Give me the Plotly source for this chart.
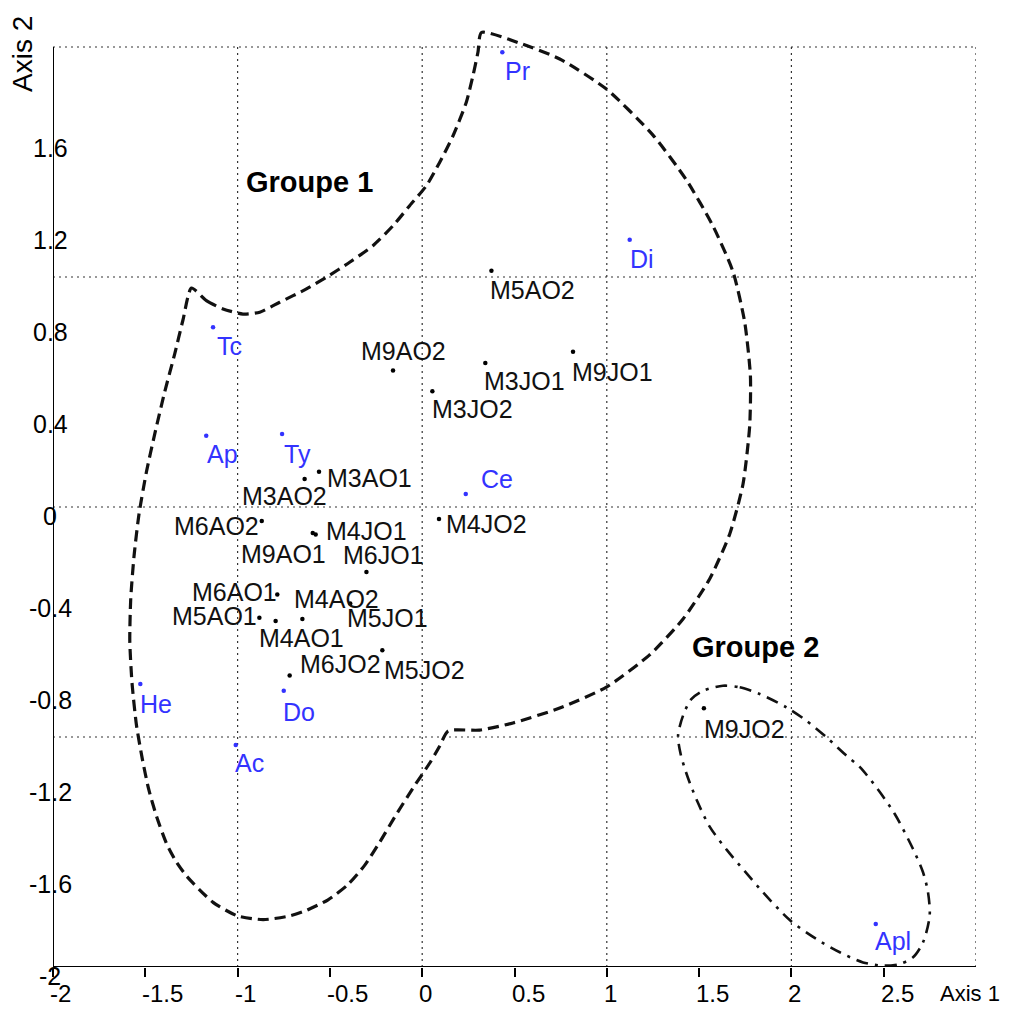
import plotly.graph_objects as go

# ---------------- data ----------------
site_names = ["M3AO1", "M3AO2", "M6AO2", "M4JO1", "M9AO1", "M6JO1", "M6AO1", "M4AO2",
              "M5AO1", "M5JO1", "M4AO1", "M6JO2", "M5JO2", "M4JO2", "M9AO2", "M3JO2",
              "M3JO1", "M9JO1", "M5AO2", "M9JO2"]
site_x = [-0.559, -0.637, -0.869, -0.577, -0.593, -0.302, -0.785, -0.649,
          -0.882, -0.390, -0.794, -0.718, -0.216, 0.091, -0.158, 0.055,
          0.342, 0.817, 0.375, 1.526]
site_y = [0.153, 0.122, -0.061, -0.120, -0.113, -0.283, -0.380, -0.487,
          -0.482, -0.420, -0.496, -0.733, -0.623, -0.052, 0.593, 0.503,
          0.626, 0.675, 1.027, -0.875]

species_names = ["Pr", "Di", "Tc", "Ap", "Ty", "Ce", "He", "Do", "Ac", "Apl"]
species_x = [0.434, 1.124, -1.133, -1.170, -0.759, 0.236, -1.527, -0.750, -1.010, 2.457]
species_y = [1.977, 1.162, 0.781, 0.310, 0.317, 0.057, -0.770, -0.799, -1.035, -1.813]

# Groupe 1 envelope (dashed)
g1_x = [-1.250, -1.169, -1.079, -0.971, -0.880, -0.772, -0.627, -0.519, -0.393, -0.267,
        -0.158, -0.068, 0.023, 0.095, 0.167, 0.239, 0.275, 0.302, 0.321, 0.528,
        0.745, 0.998, 1.250, 1.431, 1.575, 1.684, 1.747, 1.778, 1.774, 1.738,
        1.666, 1.557, 1.413, 1.232, 0.998, 0.745, 0.492, 0.311, 0.140, 0.095,
        0.041, -0.050, -0.149, -0.230, -0.311, -0.404, -0.512, -0.637, -0.718, -0.862,
        -1.003, -1.133, -1.277, -1.335, -1.384, -1.438, -1.482, -1.516, -1.548, -1.572,
        -1.584, -1.579, -1.561, -1.534, -1.494, -1.449, -1.395, -1.341, -1.296, -1.250]
g1_y = [0.952, 0.897, 0.861, 0.839, 0.847, 0.890, 0.948, 0.999, 1.064, 1.136,
        1.223, 1.310, 1.397, 1.499, 1.614, 1.760, 1.875, 1.977, 2.063, 2.017,
        1.948, 1.817, 1.617, 1.422, 1.222, 1.022, 0.804, 0.570, 0.352, 0.100,
        -0.117, -0.313, -0.487, -0.643, -0.783, -0.874, -0.939, -0.970, -0.974, -1.039,
        -1.113, -1.222, -1.348, -1.457, -1.557, -1.643, -1.709, -1.757, -1.778, -1.794,
        -1.777, -1.719, -1.604, -1.539, -1.465, -1.348, -1.226, -1.096, -0.948, -0.765,
        -0.583, -0.400, -0.213, -0.030, 0.152, 0.317, 0.500, 0.665, 0.813, 0.952]

# Groupe 2 envelope (dash-dot)
g2_x = [1.629, 1.720, 1.828, 1.973, 2.081, 2.190, 2.298, 2.370, 2.467, 2.560,
        2.659, 2.713, 2.740, 2.749, 2.713, 2.659, 2.587, 2.496, 2.388, 2.262,
        2.135, 1.991, 1.845, 1.747, 1.650, 1.558, 1.492, 1.438, 1.400, 1.386,
        1.413, 1.458, 1.521, 1.629]
g2_y = [-0.777, -0.784, -0.813, -0.871, -0.929, -1.001, -1.081, -1.130, -1.226, -1.335,
        -1.487, -1.588, -1.675, -1.777, -1.893, -1.958, -1.987, -1.994, -1.980, -1.936,
        -1.878, -1.796, -1.674, -1.583, -1.491, -1.391, -1.283, -1.174, -1.074, -0.994,
        -0.907, -0.835, -0.799, -0.777]

x_tick_vals = [-2, -1.5, -1, -0.5, 0, 0.5, 1, 1.5, 2, 2.5]
x_tick_text = ["-2", "-1.5", "-1", "-0.5", "0", "0.5", "1", "1.5", "2", "2.5"]
y_tick_vals = [1.6, 1.2, 0.8, 0.4, 0, -0.4, -0.8, -1.2, -1.6, -2]
y_tick_text = ["1.6", "1.2", "0.8", "0.4", "0", "-0.4", "-0.8", "-1.2", "-1.6", "-2"]
grid_x = [-1, 0, 1, 2, 3]
grid_y = [-1, 0, 1, 2]

group_labels = ["Groupe 1", "Groupe 2"]
group_label_x = [-0.608, 1.807]
group_label_y = [1.413, -0.609]

# ---------------- styles ----------------
FONT = "Liberation Sans, Arial, sans-serif"
FS = 25
BLUE = "#3333ff"
XMIN, XMAX, YMIN, YMAX = -2, 3, -2, 2

# label offsets in pixels (dx right, dy down) of label centre from its point
site_off = {
    "M3AO1": (50, 6), "M3AO2": (-20, 17), "M6AO2": (-45, 5), "M4JO1": (51, -4),
    "M9AO1": (-29, 21), "M6JO1": (17, -17), "M6AO1": (-43, -2), "M4AO2": (34, -20),
    "M5AO1": (-45, -2), "M5JO1": (37, 14), "M4AO1": (26, 17), "M6JO2": (51, -12),
    "M5JO2": (42, 20), "M4JO2": (47, 5), "M9AO2": (10, -20), "M3JO2": (40, 18),
    "M3JO1": (39, 18), "M9JO1": (39, 20), "M5AO2": (41, 19), "M9JO2": (41, 21),
}
species_off = {
    "Pr": (15, 19), "Di": (12, 19), "Tc": (16, 19), "Ap": (16, 18), "Ty": (15, 20),
    "Ce": (31, -15), "He": (16, 20), "Do": (15, 21), "Ac": (14, 18), "Apl": (17, 17),
}

fig = go.Figure()

# grid
shapes = []
GRID = dict(color="#333333", width=1.2, dash="2px,4px")
for gx in grid_x:
    shapes.append(dict(type="line", xref="x", yref="y", x0=gx, x1=gx, y0=YMIN, y1=YMAX,
                       line=GRID, layer="below"))
for gy in grid_y:
    shapes.append(dict(type="line", xref="x", yref="y", x0=XMIN, x1=XMAX, y0=gy, y1=gy,
                       line=GRID, layer="below"))
# axes lines
shapes.append(dict(type="line", xref="x", yref="y", x0=XMIN, x1=XMIN, y0=YMIN, y1=YMAX,
                   line=dict(color="black", width=2)))
shapes.append(dict(type="line", xref="x", yref="y", x0=XMIN, x1=XMAX, y0=YMIN, y1=YMIN,
                   line=dict(color="black", width=2)))

# envelopes
fig.add_trace(go.Scatter(x=g1_x, y=g1_y, mode="lines",
                         line=dict(color="#111111", width=3.2, dash="11px,6px",
                                   shape="spline", smoothing=0.6),
                         hoverinfo="skip", showlegend=False))
fig.add_trace(go.Scatter(x=g2_x, y=g2_y, mode="lines",
                         line=dict(color="#111111", width=2.6, dash="12px,7px,3px,7px",
                                   shape="spline", smoothing=0.8),
                         hoverinfo="skip", showlegend=False))

# points
fig.add_trace(go.Scatter(x=site_x, y=site_y, mode="markers", text=site_names,
                         marker=dict(color="black", size=4.5), showlegend=False,
                         hovertemplate="%{text}<extra></extra>"))
fig.add_trace(go.Scatter(x=species_x, y=species_y, mode="markers", text=species_names,
                         marker=dict(color=BLUE, size=4.5), showlegend=False,
                         hovertemplate="%{text}<extra></extra>"))

annotations = []
for n, x, y in zip(site_names, site_x, site_y):
    dx, dy = site_off[n]
    annotations.append(dict(x=x, y=y, xref="x", yref="y", text=n, showarrow=False,
                            xanchor="center", yanchor="middle", xshift=dx, yshift=-dy,
                            font=dict(family=FONT, size=FS, color="#111111")))
for n, x, y in zip(species_names, species_x, species_y):
    dx, dy = species_off[n]
    annotations.append(dict(x=x, y=y, xref="x", yref="y", text=n, showarrow=False,
                            xanchor="center", yanchor="middle", xshift=dx, yshift=-dy,
                            font=dict(family=FONT, size=FS, color=BLUE)))
for t, x, y in zip(group_labels, group_label_x, group_label_y):
    annotations.append(dict(x=x, y=y, xref="x", yref="y", text="<b>%s</b>" % t,
                            showarrow=False, xanchor="center", yanchor="middle",
                            font=dict(family=FONT, size=29, color="black")))
# tick labels
for v, t in zip(x_tick_vals, x_tick_text):
    annotations.append(dict(x=v, y=YMIN, xref="x", yref="y", text=t, showarrow=False,
                            xanchor="left", yanchor="middle", xshift=-5, yshift=-26,
                            font=dict(family=FONT, size=24, color="black")))
for v, t in zip(y_tick_vals, y_tick_text):
    annotations.append(dict(x=XMIN, y=v, xref="x", yref="y", text=t, showarrow=False,
                            xanchor="center", yanchor="middle", xshift=-3, yshift=-9,
                            font=dict(family=FONT, size=FS, color="black")))
# axis titles
annotations.append(dict(x=XMAX, y=YMIN, xref="x", yref="y", text="Axis 1", showarrow=False,
                        xanchor="center", yanchor="middle", xshift=-6, yshift=-26,
                        font=dict(family=FONT, size=22, color="black")))
annotations.append(dict(x=XMIN, y=1.97, xref="x", yref="y", text="Axis 2", showarrow=False,
                        xanchor="center", yanchor="middle", xshift=-30, textangle=-90,
                        font=dict(family=FONT, size=28, color="black")))

fig.update_layout(
    width=996, height=999,
    margin=dict(l=45, r=28, t=16, b=40),
    plot_bgcolor="white", paper_bgcolor="white",
    shapes=shapes, annotations=annotations,
    xaxis=dict(range=[XMIN, XMAX], showgrid=False, zeroline=False, showline=False,
               tickvals=x_tick_vals, ticktext=["" for _ in x_tick_vals],
               ticks="outside", ticklen=9, tickwidth=1.5, tickcolor="black"),
    yaxis=dict(range=[YMIN, 2.1], showgrid=False, zeroline=False, showline=False,
               showticklabels=False, ticks=""),
)

fig.write_html("out.html")
